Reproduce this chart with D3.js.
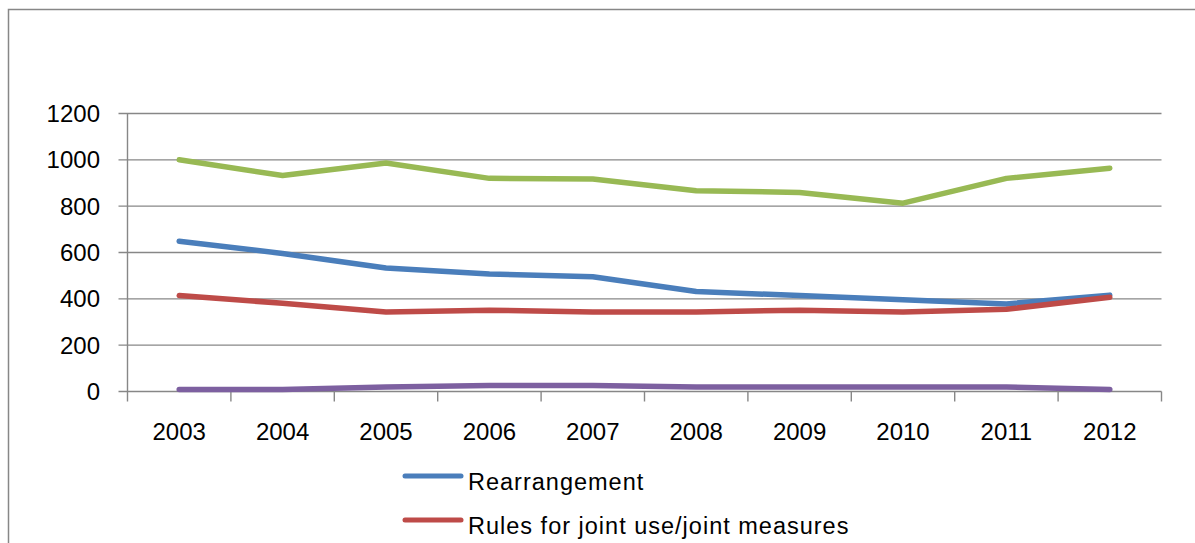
<!DOCTYPE html>
<html><head><meta charset="utf-8">
<script src="https://cdn.jsdelivr.net/npm/d3@7"></script>
<style>html,body{margin:0;padding:0;background:#fff;overflow:hidden}</style>
</head><body>
<svg id="c" width="1195" height="543"></svg>
<script>
const years = ["2003","2004","2005","2006","2007","2008","2009","2010","2011","2012"];
const yTicks = [0,200,400,600,800,1000,1200];
const rearrangement = [649,596,533,507,495,432,414,396,378,416];
const jointUse = [414,381,343,351,343,343,351,343,355,407];
const greenSeries = [1000,932,986,920,917,867,859,813,920,964];
const purpleSeries = [9,9,19,26,26,19,19,19,19,9];
const seriesNames = ["Rearrangement","Rules for joint use/joint measures"];
const colors = ["#4a7ebb","#be4b48","#98b954","#7d60a0"];

const series = [
  {name: seriesNames[0], values: rearrangement, color: colors[0], legend: true},
  {name: seriesNames[1], values: jointUse, color: colors[1], legend: true},
  {name: "", values: greenSeries, color: colors[2], legend: false},
  {name: "", values: purpleSeries, color: colors[3], legend: false}
];

const svg = d3.select("#c");
const font = "'Liberation Sans', Arial, sans-serif";
const grid = "#878787";

svg.append("rect").attr("x",8.5).attr("y",9.5).attr("width",1300).attr("height",700)
  .attr("fill","none").attr("stroke",grid).attr("stroke-width",1.5);

const pL = 127.5, pR = 1161.5, pT = 113.5, pB = 391.5;
const x = d3.scaleBand().domain(years).range([pL,pR]);
const y = d3.scaleLinear().domain([0,1200]).range([pB,pT]);

svg.append("g").selectAll("line").data(yTicks).join("line")
  .attr("x1",pL-9).attr("x2",pR).attr("y1",d=>y(d)).attr("y2",d=>y(d))
  .attr("stroke",grid).attr("stroke-width",1.4);

svg.append("line").attr("x1",pL).attr("x2",pL).attr("y1",pT).attr("y2",pB+10)
  .attr("stroke",grid).attr("stroke-width",1.4);

const bounds = years.map(d=>x(d)).concat([pR]);
svg.append("g").selectAll("line").data(bounds.slice(1)).join("line")
  .attr("x1",d=>d).attr("x2",d=>d).attr("y1",pB).attr("y2",pB+10)
  .attr("stroke",grid).attr("stroke-width",1.4);

svg.append("g").selectAll("text").data(yTicks).join("text")
  .attr("x",100).attr("y",d=>y(d)).attr("dy","0.35em").attr("text-anchor","end")
  .attr("font-family",font).attr("font-size",24).attr("fill","#000").text(d=>d);

svg.append("g").selectAll("text").data(years).join("text")
  .attr("x",d=>x(d)+x.bandwidth()/2).attr("y",432).attr("dy","0.35em").attr("text-anchor","middle")
  .attr("font-family",font).attr("font-size",24).attr("fill","#000").text(d=>d);

const line = d3.line().x((d,i)=>x(years[i])+x.bandwidth()/2).y(d=>y(d));
svg.append("g").selectAll("path").data(series).join("path")
  .attr("d",d=>line(d.values)).attr("fill","none").attr("stroke",d=>d.color)
  .attr("stroke-width",5.5).attr("stroke-linecap","round").attr("stroke-linejoin","round");

const leg = svg.append("g").selectAll("g").data(series.filter(s=>s.legend)).join("g")
  .attr("transform",(d,i)=>`translate(0,${476+i*44})`);
leg.append("line").attr("x1",405).attr("x2",461).attr("y1",0).attr("y2",0)
  .attr("stroke",d=>d.color).attr("stroke-width",5).attr("stroke-linecap","round");
leg.append("text").attr("x",468).attr("y",13.5).attr("font-family",font).attr("font-size",23.5)
  .attr("letter-spacing",1).attr("fill","#000").text(d=>d.name);
</script>
</body></html>
